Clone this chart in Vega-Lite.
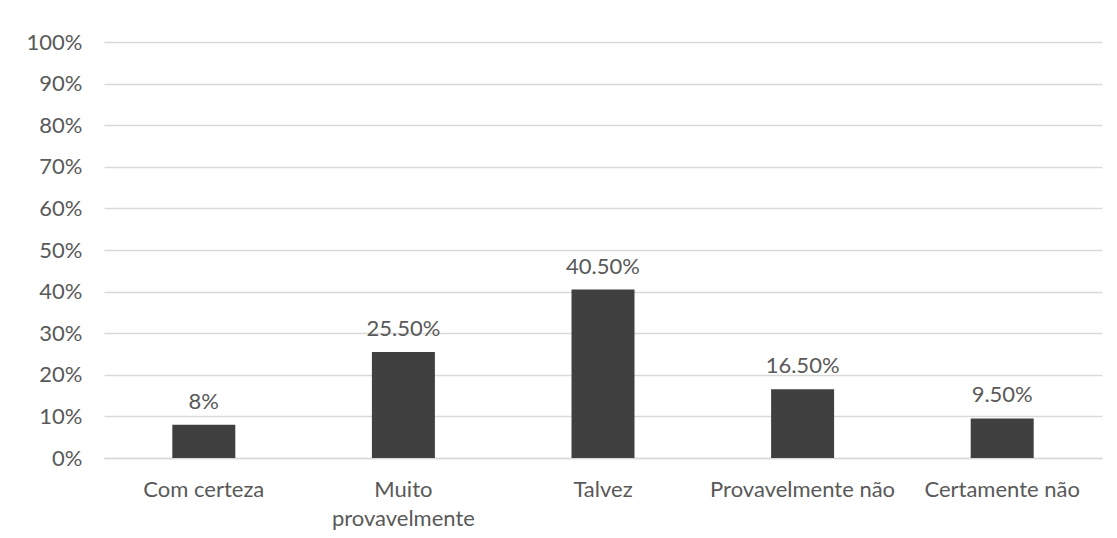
{
  "$schema": "https://vega.github.io/schema/vega-lite/v6.json",
  "autosize": "none",
  "width": 998,
  "height": 416,
  "padding": {"left": 104, "top": 42, "right": 15, "bottom": 80},
  "background": "white",
  "config": {
    "view": {"stroke": null},
    "font": "Lato",
    "axis": {"labelFont": "Lato", "labelColor": "#595959", "labelFontSize": 22, "gridColor": "#d9d9d9", "gridWidth": 1.5}
  },
  "data": {
    "values": [
      {"categoria": "Com certeza", "valor": 0.08, "rotulo": "8%"},
      {"categoria": "Muito provavelmente", "valor": 0.255, "rotulo": "25.50%"},
      {"categoria": "Talvez", "valor": 0.405, "rotulo": "40.50%"},
      {"categoria": "Provavelmente não", "valor": 0.165, "rotulo": "16.50%"},
      {"categoria": "Certamente não", "valor": 0.095, "rotulo": "9.50%"}
    ]
  },
  "encoding": {
    "x": {
      "field": "categoria", "type": "nominal", "sort": null,
      "scale": {"paddingInner": 0, "paddingOuter": 0},
      "axis": {
        "title": null, "labelAngle": 0, "ticks": false, "domain": true, "domainColor": "#d9d9d9", "domainWidth": 1.5,
        "labelPadding": 31, "labelBaseline": "middle", "labelLineHeight": 29, "labelOverlap": false, "labelLimit": 0,
        "labelExpr": "datum.label == 'Muito provavelmente' ? ['Muito', 'provavelmente'] : datum.label"
      }
    },
    "y": {
      "field": "valor", "type": "quantitative",
      "scale": {"domain": [0, 1]},
      "axis": {"title": null, "format": ".0%", "values": [0,0.1,0.2,0.3,0.4,0.5,0.6,0.7,0.8,0.9,1], "labelOverlap": false, "ticks": false, "domain": false, "grid": true, "labelPadding": 22}
    }
  },
  "layer": [
    {"mark": {"type": "bar", "color": "#404040", "width": 63}},
    {"mark": {"type": "text", "baseline": "alphabetic", "dy": -16, "fontSize": 22, "color": "#595959", "font": "Lato"},
     "encoding": {"text": {"field": "rotulo"}}}
  ]
}
